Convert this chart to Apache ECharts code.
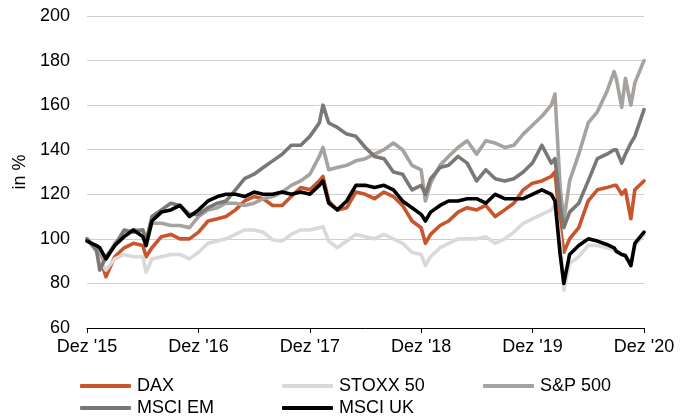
<!DOCTYPE html>
<html>
<head>
<meta charset="utf-8">
<title>Indizes</title>
<script src="https://cdn.jsdelivr.net/npm/echarts@6/dist/echarts.min.js"></script>
<style>
  html, body { margin: 0; padding: 0; background: #fff; }
  #main { width: 689px; height: 419px; }
</style>
</head>
<body>
<div id="main"></div>
<script>
// Stichtage (monatlich plus einige Extrempunkte)
var dates = [
  '2015-12-01', '2016-01-01', '2016-01-12', '2016-02-01', '2016-03-01', '2016-04-01', '2016-05-01', '2016-06-01', '2016-06-12',
  '2016-07-01', '2016-08-01', '2016-09-01', '2016-10-01', '2016-11-01', '2016-12-01',
  '2017-01-01', '2017-02-01', '2017-03-01', '2017-04-01', '2017-05-01', '2017-06-01', '2017-07-01', '2017-08-01',
  '2017-09-01', '2017-10-01', '2017-11-01', '2017-12-01',
  '2018-01-01', '2018-01-13', '2018-02-01', '2018-03-01', '2018-04-01', '2018-05-01', '2018-06-01', '2018-07-01',
  '2018-08-01', '2018-09-01', '2018-10-01', '2018-11-01', '2018-12-01', '2018-12-15',
  '2019-01-01', '2019-02-01', '2019-03-01', '2019-04-01', '2019-05-01', '2019-06-01', '2019-07-01', '2019-08-01',
  '2019-09-01', '2019-10-01', '2019-11-01', '2019-12-01',
  '2020-01-01', '2020-02-01', '2020-02-13', '2020-03-01', '2020-03-13', '2020-04-01', '2020-05-01', '2020-06-01',
  '2020-07-01', '2020-08-01', '2020-08-25', '2020-09-01', '2020-09-19', '2020-10-01', '2020-10-19', '2020-11-01', '2020-12-01'
];

var dax = [
  100, 95, 92, 83, 92, 96, 98, 97, 92,
  96, 101, 102, 100, 100, 103,
  108, 109, 110, 113, 117, 119, 118, 115,
  115, 119, 123, 122,
  126, 128, 117, 113, 114, 121, 120, 118,
  121, 119, 115, 108, 105, 98,
  102, 106, 108, 112, 114, 113, 115, 110,
  113, 116, 122, 125,
  126, 128, 130, 106, 94, 100, 105, 117,
  122, 123, 124, 124, 120, 122, 109, 122, 126
];

var stoxx = [
  100, 94, 90.5, 86, 91, 93, 92, 92, 85,
  91, 92, 93, 93, 91, 94,
  98, 99, 100, 102, 104, 104, 103, 99.5,
  99, 102, 104, 104,
  105, 105.5, 99, 96, 99, 102, 101, 100,
  102, 100, 98, 94, 93, 88,
  92, 96, 98, 100, 100, 100, 101, 98,
  100, 103, 107, 109,
  111, 113, 115, 100, 77, 89, 92, 97,
  97, 96, 95, 94, 93, 92, 89, 97, 102
];

var sp500 = [
  100, 95, 93.5, 91, 98, 102, 104, 104, 100,
  107, 107, 106, 106, 105, 110,
  113, 114, 116, 116, 115, 116, 118, 119,
  121, 124, 126, 129,
  137, 141, 131, 132, 133, 135, 136, 138,
  140, 143, 140, 133, 131, 117,
  125, 133, 137, 141, 144, 138, 144, 143,
  141, 142, 147, 151,
  155, 160, 165, 123, 108, 126, 138, 152,
  157, 166, 175, 172, 159, 172, 160, 170, 180
];

var msciEm = [
  100, 95, 86, 92, 97, 104, 103, 104, 99,
  110, 113, 116, 115, 111, 111,
  114, 116, 117, 122, 127, 129, 132, 135,
  138, 142, 142, 146,
  152, 160, 152, 150, 147, 146, 141, 137,
  136, 130, 129, 122, 124, 120,
  127, 132, 133, 137, 134, 126, 131, 127,
  126, 127, 130, 134,
  142, 134, 136, 115, 105, 112, 116, 126,
  136, 138, 140, 140, 134, 138, 143, 146, 158
];

var msciUk = [
  99, 97, 96, 91, 97, 101, 104, 101, 97,
  108, 112, 113, 115, 110, 113,
  117, 119, 120, 120, 119, 121, 120, 120,
  121, 120, 121, 120,
  124, 126, 116, 113, 117, 124, 124, 123,
  124, 122, 117, 114, 111, 108,
  112, 115, 117, 117, 118, 118, 116, 120,
  118, 118, 118, 120,
  122, 120, 117, 93, 80, 93, 97, 100,
  99, 97.5, 96, 94.5, 93, 92.5, 88, 98, 103
];

var tickDates = ['2015-12-01', '2016-12-01', '2017-12-01', '2018-12-01', '2019-12-01', '2020-12-01'];
var tickLabels = ["Dez '15", "Dez '16", "Dez '17", "Dez '18", "Dez '19", "Dez '20"];

var names = ['DAX', 'STOXX 50', 'S&P 500', 'MSCI EM', 'MSCI UK'];
var colors = ['#C9552C', '#D9D9D9', '#A5A29F', '#7B7774', '#000000'];

function ts(s) {
  var p = s.split('-');
  return Date.UTC(+p[0], +p[1] - 1, +p[2]);
}
var tickTs = tickDates.map(ts);

function pairs(vals) {
  return vals.map(function (v, i) { return [ts(dates[i]), v]; });
}

var font = 'Liberation Sans, Arial, sans-serif';

function mkLegend(name, left, top) {
  return {
    data: [name],
    left: left,
    top: top,
    padding: 0,
    icon: 'roundRect',
    itemWidth: 51,
    itemHeight: 4,
    itemGap: 0,
    selectedMode: false,
    textStyle: { fontSize: 18, color: '#000', fontFamily: font, padding: [0, 0, 0, 1] }
  };
}

var chart = echarts.init(document.getElementById('main'));
var option = {
  animation: false,
  backgroundColor: '#fff',
  textStyle: { fontFamily: font },
  grid: { left: 87, right: 45, top: 16, bottom: 91 },
  legend: [
    mkLegend(names[0], 80, 377),
    mkLegend(names[1], 282, 377),
    mkLegend(names[2], 483, 377),
    mkLegend(names[3], 80, 399),
    mkLegend(names[4], 282, 399)
  ],
  xAxis: {
    type: 'value',
    min: tickTs[0],
    max: tickTs[tickTs.length - 1],
    axisLine: { lineStyle: { color: '#000', width: 1 } },
    axisTick: { show: true, length: 5, lineStyle: { color: '#000' }, customValues: tickTs },
    axisLabel: {
      customValues: tickTs,
      fontSize: 18,
      color: '#000',
      fontFamily: font,
      margin: 10,
      formatter: function (val) {
        var best = 0;
        tickTs.forEach(function (t, k) { if (Math.abs(t - val) < Math.abs(tickTs[best] - val)) best = k; });
        return tickLabels[best];
      }
    },
    splitLine: { show: false }
  },
  yAxis: {
    type: 'value',
    min: 60,
    max: 200,
    interval: 20,
    name: 'in %',
    nameLocation: 'middle',
    nameGap: 57,
    nameTextStyle: { fontSize: 18, color: '#000', fontFamily: font },
    axisLine: { show: false },
    axisTick: { show: false },
    axisLabel: { fontSize: 18, color: '#000', fontFamily: font, margin: 17 },
    splitLine: { lineStyle: { color: '#CFCFCF', width: 1.2 } }
  },
  series: [dax, stoxx, sp500, msciEm, msciUk].map(function (vals, i) {
    return {
      name: names[i],
      type: 'line',
      data: pairs(vals),
      showSymbol: false,
      symbol: 'none',
      color: colors[i],
      lineStyle: { width: 3.6, color: colors[i], cap: 'round', join: 'round' },
      z: 2 + i
    };
  })
};
chart.setOption(option);
</script>
</body>
</html>
